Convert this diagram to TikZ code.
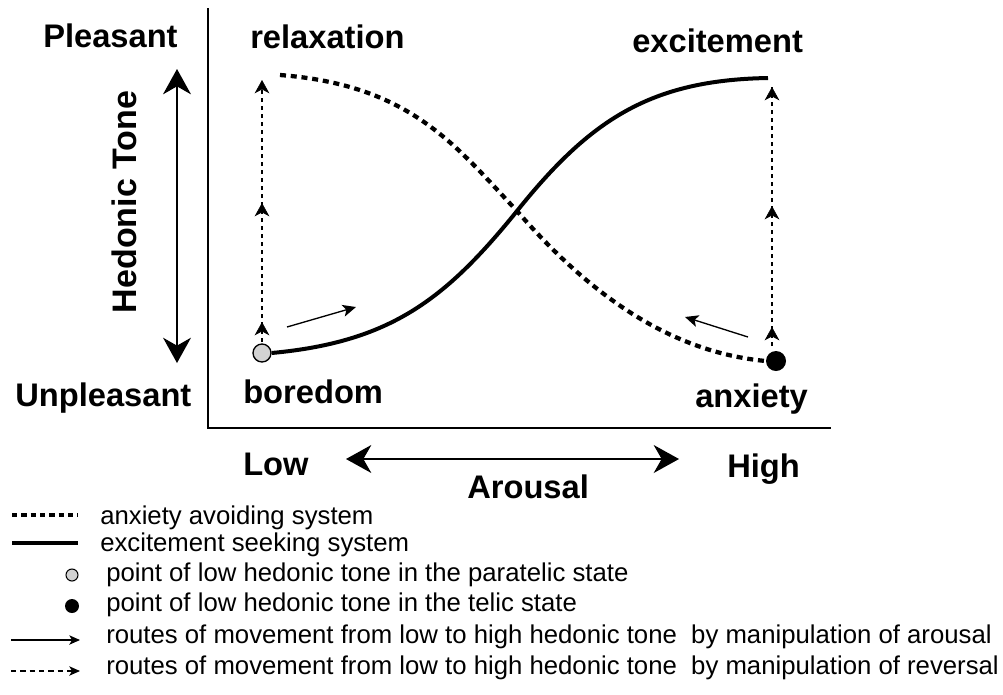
\documentclass[tikz,border=0pt]{standalone}
\usepackage{fontspec}
\setmainfont{Liberation Sans}
\usetikzlibrary{arrows.meta}
\begin{document}
\begin{tikzpicture}[x=0.75pt,y=-0.75pt,
  big/.style={font=\bfseries\fontsize{24.5}{28}\selectfont, inner sep=0pt, anchor=base west},
  leg/.style={font=\fontsize{19.3}{22}\selectfont, inner sep=0pt, anchor=base west},
  axisline/.style={line width=1.2pt},
  bigarrow/.style={line width=1pt, {Stealth[length=19pt,width=21pt,inset=6pt]}-{Stealth[length=19pt,width=21pt,inset=6pt]}},
  avoid/.style={line width=3.2pt, dash pattern=on 4.5pt off 3.6pt},
  seek/.style={line width=3pt},
  revroute/.style={line width=1.4pt, dash pattern=on 3pt off 3pt},
  revhead/.style={-{Stealth[length=10pt,width=11pt,inset=3pt]}},
  arorute/.style={line width=1pt, -{Stealth[length=10pt,width=9pt,inset=2.5pt]}},
  paratelic/.style={circle, draw, line width=1pt, fill=gray!35, minimum size=13.5pt, inner sep=0pt},
  telic/.style={circle, fill=black, minimum size=15pt, inner sep=0pt}]
\useasboundingbox (0,0) rectangle (1003,694);

% axes
\coordinate (ytop) at (208,8);
\coordinate (orig) at (208,428);
\coordinate (xend) at (831,428);
\draw[axisline] (ytop) -- (orig) -- (xend);

% labels
\node[big] (pleasant) at (43,47) {Pleasant};
\node[big] (unpleasant) at (15,406) {Unpleasant};
\node[big] (relax) at (250,48) {relaxation};
\node[big] (excite) at (632,52) {excitement};
\node[big] (bored) at (243,403) {boredom};
\node[big] (anx) at (695,407) {anxiety};
\node[big] (low) at (243,475) {Low};
\node[big] (high) at (727,477) {High};
\node[big] (arousal) at (467,498) {Arousal};
\node[font=\bfseries\fontsize{25.5}{28}\selectfont, inner sep=0pt, rotate=90] (hedonic) at (124,202) {Hedonic Tone};

% big double arrows
\coordinate (htop) at (177,69);
\coordinate (hbot) at (177,363);
\draw[bigarrow] (htop) -- (hbot);
\coordinate (aleft) at (346,459);
\coordinate (aright) at (679,459);
\draw[bigarrow] (aleft) -- (aright);

% points
\node[paratelic] (para) at (262,353) {};
\node[telic] (tel) at (776,361) {};

% curves
\coordinate (cross) at (517,211);
\coordinate (avoidstart) at (280,75);
\coordinate (seekend) at (768,78);
\draw[avoid] (avoidstart) .. controls (410,85) and (455,145) .. (cross)
   .. controls (590,295) and (670,352) .. (tel.west);
\draw[seek] (para.east) .. controls (390,342) and (445,300) .. (cross)
   .. controls (590,120) and (650,80) .. (seekend);

% reversal routes (dashed vertical)
\coordinate (l0) at (262,342);
\coordinate (l1) at (262,322);
\coordinate (l2) at (262,203);
\coordinate (l3) at (262,80);
\draw[revroute] (l0) -- (l3);
\draw[revhead] (l1) ++(0,8) -- (l1);
\draw[revhead] (l2) ++(0,8) -- (l2);
\draw[revhead] (l3) ++(0,8) -- (l3);
\coordinate (r0) at (772,346);
\coordinate (r1) at (772,327);
\coordinate (r2) at (772,206);
\coordinate (r3) at (772,87);
\draw[revroute] (r0) -- (r3);
\draw[revhead] (r1) ++(0,8) -- (r1);
\draw[revhead] (r2) ++(0,8) -- (r2);
\draw[revhead] (r3) ++(0,8) -- (r3);

% arousal routes
\coordinate (sa1) at (287,327);
\coordinate (sa2) at (356,307);
\draw[arorute] (sa1) -- (sa2);
\coordinate (sb1) at (748,337);
\coordinate (sb2) at (685,317);
\draw[arorute] (sb1) -- (sb2);

% legend
\coordinate (g1a) at (12,515); \coordinate (g1b) at (78,515);
\draw[line width=2.8pt, dash pattern=on 4pt off 3pt] (g1a) -- (g1b);
\node[leg] (t1) at (100,524) {anxiety avoiding system};
\coordinate (g2a) at (12,543); \coordinate (g2b) at (78,543);
\draw[line width=2.6pt] (g2a) -- (g2b);
\node[leg] (t2) at (100,551) {excitement seeking system};
\node[paratelic, minimum size=9pt, line width=0.8pt] (g3) at (72,575) {};
\node[leg] (t3) at (106,581) {point of low hedonic tone in the paratelic state};
\node[telic, minimum size=10.5pt] (g4) at (72,606) {};
\node[leg] (t4) at (106,611) {point of low hedonic tone in the telic state};
\coordinate (g5a) at (11,640); \coordinate (g5b) at (80,640);
\draw[line width=0.9pt, -{Stealth[length=8pt,width=7pt,inset=2pt]}] (g5a) -- (g5b);
\node[leg] (t5) at (106,643) {routes of movement from low to high hedonic tone\ \ by manipulation of arousal};
\coordinate (g6a) at (11,671); \coordinate (g6b) at (80,671);
\draw[line width=1.1pt, dash pattern=on 4pt off 3pt, -{Stealth[length=8pt,width=7pt,inset=2pt]}] (g6a) -- (g6b);
\node[leg] (t6) at (106,674) {routes of movement from low to high hedonic tone\ \ by manipulation of reversal};
\end{tikzpicture}
\end{document}
